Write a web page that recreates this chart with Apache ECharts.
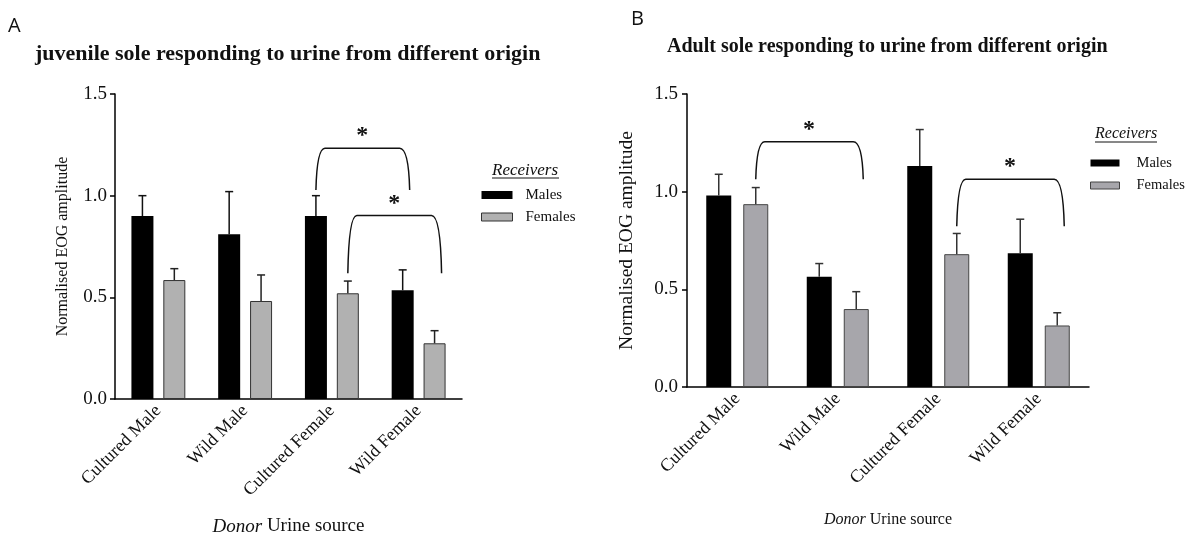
<!DOCTYPE html>
<html>
<head>
<meta charset="utf-8">
<title>Sole EOG responses to urine</title>
<script src="https://cdn.jsdelivr.net/npm/echarts@6/dist/echarts.min.js"></script>
<style>
  html, body { margin: 0; padding: 0; background: #fff; }
  #chart { width: 1191px; height: 544px; }
</style>
</head>
<body>
<div id="chart"></div>
<script>
const categories = ['Cultured Male', 'Wild Male', 'Cultured Female', 'Wild Female'];

// A - juvenile receivers
const juvMales = [0.90, 0.81, 0.90, 0.535];
const juvMalesErr = [0.10, 0.21, 0.10, 0.10];
const juvFemales = [0.585, 0.482, 0.52, 0.274];
const juvFemalesErr = [0.056, 0.128, 0.06, 0.062];
// [fromCat, fromBar, toCat, toBar, low, top]  bar 0 = males, 1 = females
const juvBrackets = [[2, 0, 3, 0, 1.028, 1.233], [2, 1, 3, 1, 0.618, 0.903]];

// B - adult receivers
const adMales = [0.98, 0.564, 1.132, 0.685];
const adMalesErr = [0.109, 0.068, 0.186, 0.174];
const adFemales = [0.936, 0.399, 0.68, 0.315];
const adFemalesErr = [0.085, 0.089, 0.106, 0.065];
const adBrackets = [[0, 1, 1, 1, 1.064, 1.256], [2, 1, 3, 1, 0.823, 1.064]];

const serif = '"Liberation Serif", "Times New Roman", serif';
const ink = '#111';

// bar sizes per panel, offset = distance from category centre to bar centre
const barA = 22, gapA = 0.45, offA = (barA + barA * gapA) / 2;
const barB = 25, gapB = 0.48, offB = (barB + barB * gapB) / 2;

function rows(mean, err) {
  return mean.map((v, i) => [i, v, err[i]]);
}

function errorBars(offset, color) {
  return function (params, api) {
    const base = api.coord([api.value(0), api.value(1)]);
    const top = api.coord([api.value(0), api.value(1) + api.value(2)]);
    const x = base[0] + offset;
    const st = { stroke: color, lineWidth: 1.5 };
    return {
      type: 'group',
      children: [
        { type: 'line', shape: { x1: x, y1: base[1], x2: x, y2: top[1] }, style: st },
        { type: 'line', shape: { x1: x - 4, y1: top[1], x2: x + 4, y2: top[1] }, style: st }
      ]
    };
  };
}

function brackets(offset) {
  return function (params, api) {
    const lo = api.value(4), hi = api.value(5);
    const a = api.coord([api.value(0), lo]);
    const b = api.coord([api.value(2), lo]);
    const t = api.coord([api.value(0), hi]);
    const x1 = a[0] + (api.value(1) ? offset : -offset);
    const x2 = b[0] + (api.value(3) ? offset : -offset) + 6;
    const yl = a[1], yt = t[1];
    const d = 'M' + x1 + ' ' + yl + ' Q' + (x1 + 1) + ' ' + yt + ' ' + (x1 + 9) + ' ' + yt +
      ' L' + (x2 - 9) + ' ' + yt + ' Q' + x2 + ' ' + yt + ' ' + (x2 + 1) + ' ' + yl;
    return {
      type: 'group',
      children: [
        { type: 'path', shape: { pathData: d }, style: { stroke: ink, fill: 'none', lineWidth: 1.5 } },
        { type: 'text', x: (x1 + x2) / 2, y: yt - 12,
          style: { text: '*', font: 'bold 24px ' + serif, fill: ink, align: 'center', verticalAlign: 'middle' } }
      ]
    };
  };
}

function xAxisOf(grid, nameSize, nameGap) {
  return {
    type: 'category', gridIndex: grid, data: categories,
    axisLine: { lineStyle: { color: '#000', width: 1.5 } },
    axisTick: { alignWithLabel: true, length: 5, lineStyle: { color: '#000', width: 1.5 } },
    axisLabel: { rotate: 45, margin: 9, interval: 0, fontFamily: serif, fontSize: 18, color: ink },
    name: '{i|Donor} Urine source', nameLocation: 'middle', nameGap: nameGap,
    nameTextStyle: {
      fontFamily: serif, fontSize: nameSize, color: ink,
      rich: { i: { fontFamily: serif, fontSize: nameSize, fontStyle: 'italic', color: ink } }
    }
  };
}

function yAxisOf(grid, nameSize, nameGap, labelMargin) {
  return {
    type: 'value', gridIndex: grid, min: 0, max: 1.5, interval: 0.5,
    axisLine: { show: true, lineStyle: { color: '#000', width: 1.5 } },
    axisTick: { show: true, length: 5, lineStyle: { color: '#000', width: 1.5 } },
    splitLine: { show: false },
    axisLabel: { margin: labelMargin, fontFamily: serif, fontSize: 19, color: ink, formatter: v => v.toFixed(1) },
    name: 'Normalised EOG amplitude', nameLocation: 'middle', nameGap: nameGap,
    nameTextStyle: { fontFamily: serif, fontSize: nameSize, color: ink }
  };
}

const chart = echarts.init(document.getElementById('chart'));

chart.setOption({
  animation: false,
  backgroundColor: '#fff',
  textStyle: { fontFamily: serif },
  title: [
    { text: 'A', left: 8, top: 16, padding: 0, textStyle: { fontFamily: '"Open Sans", sans-serif', fontSize: 20, fontWeight: 'normal', color: ink } },
    { text: 'juvenile sole responding to urine from different origin', left: 35, top: 43, padding: 0,
      textStyle: { fontFamily: serif, fontSize: 22, fontWeight: 'bold', color: ink } },
    { text: 'B', left: 631, top: 9, padding: 0, textStyle: { fontFamily: '"Open Sans", sans-serif', fontSize: 20, fontWeight: 'normal', color: ink } },
    { text: 'Adult sole responding to urine from different origin', left: 667, top: 37, padding: 0,
      textStyle: { fontFamily: serif, fontSize: 20, fontWeight: 'bold', color: ink } }
  ],
  grid: [
    { left: 115, top: 94, width: 347, height: 305 },
    { left: 687, top: 94, width: 402, height: 293 }
  ],
  xAxis: [xAxisOf(0, 19, 118), xAxisOf(1, 16, 125)],
  yAxis: [yAxisOf(0, 16, 44, 8), yAxisOf(1, 19.5, 50, 9)],
  legend: [
    {
      orient: 'vertical', left: 481, top: 187, padding: 0, itemGap: 6,
      itemWidth: 31, itemHeight: 8, icon: 'rect',
      textStyle: { fontFamily: serif, fontSize: 15, lineHeight: 16, color: ink, padding: [0, 0, 0, 8] },
      data: [
        { name: 'Males', itemStyle: { color: '#000' } },
        { name: 'Females', itemStyle: { color: '#b1b1b1', borderColor: '#333', borderWidth: 1 } }
      ]
    },
    {
      orient: 'vertical', left: 1090, top: 155, padding: 0, itemGap: 6.5,
      itemWidth: 29, itemHeight: 7, icon: 'rect',
      textStyle: { fontFamily: serif, fontSize: 14.5, lineHeight: 16, color: ink, padding: [0, 0, 0, 12] },
      data: [
        { name: 'Males', itemStyle: { color: '#000' } },
        { name: 'Females', itemStyle: { color: '#a7a6ab', borderColor: '#444', borderWidth: 1 } }
      ]
    }
  ],
  graphic: [
    { type: 'text', left: 492, top: 162, style: { text: 'Receivers', font: 'italic 17px ' + serif, fill: ink } },
    { type: 'line', shape: { x1: 492, y1: 178, x2: 559, y2: 178 }, style: { stroke: ink, lineWidth: 1 } },
    { type: 'text', left: 1095, top: 126, style: { text: 'Receivers', font: 'italic 16px ' + serif, fill: ink } },
    { type: 'line', shape: { x1: 1095, y1: 142, x2: 1157, y2: 142 }, style: { stroke: ink, lineWidth: 1 } }
  ],
  series: [
    { name: 'Males', type: 'bar', xAxisIndex: 0, yAxisIndex: 0, data: juvMales,
      barWidth: barA, barGap: (gapA * 100) + '%', itemStyle: { color: '#000' } },
    { name: 'Females', type: 'bar', xAxisIndex: 0, yAxisIndex: 0, data: juvFemales,
      barWidth: barA, barGap: (gapA * 100) + '%', itemStyle: { color: '#b1b1b1', borderColor: '#333', borderWidth: 1 } },
    { name: 'Males SEM A', type: 'custom', xAxisIndex: 0, yAxisIndex: 0, data: rows(juvMales, juvMalesErr),
      renderItem: errorBars(-offA, '#111'), encode: { x: 0, y: 1 }, z: 3 },
    { name: 'Females SEM A', type: 'custom', xAxisIndex: 0, yAxisIndex: 0, data: rows(juvFemales, juvFemalesErr),
      renderItem: errorBars(offA, '#222'), encode: { x: 0, y: 1 }, z: 3 },
    { name: 'Signif A', type: 'custom', xAxisIndex: 0, yAxisIndex: 0, data: juvBrackets,
      renderItem: brackets(offA), encode: { x: 0, y: 5 }, z: 4 },

    { name: 'Males', type: 'bar', xAxisIndex: 1, yAxisIndex: 1, data: adMales,
      barWidth: barB, barGap: (gapB * 100) + '%', itemStyle: { color: '#000' } },
    { name: 'Females', type: 'bar', xAxisIndex: 1, yAxisIndex: 1, data: adFemales,
      barWidth: barB, barGap: (gapB * 100) + '%', itemStyle: { color: '#a7a6ab', borderColor: '#444', borderWidth: 1 } },
    { name: 'Males SEM B', type: 'custom', xAxisIndex: 1, yAxisIndex: 1, data: rows(adMales, adMalesErr),
      renderItem: errorBars(-offB, '#333'), encode: { x: 0, y: 1 }, z: 3 },
    { name: 'Females SEM B', type: 'custom', xAxisIndex: 1, yAxisIndex: 1, data: rows(adFemales, adFemalesErr),
      renderItem: errorBars(offB, '#333'), encode: { x: 0, y: 1 }, z: 3 },
    { name: 'Signif B', type: 'custom', xAxisIndex: 1, yAxisIndex: 1, data: adBrackets,
      renderItem: brackets(offB), encode: { x: 0, y: 5 }, z: 4 }
  ]
});
</script>
</body>
</html>
